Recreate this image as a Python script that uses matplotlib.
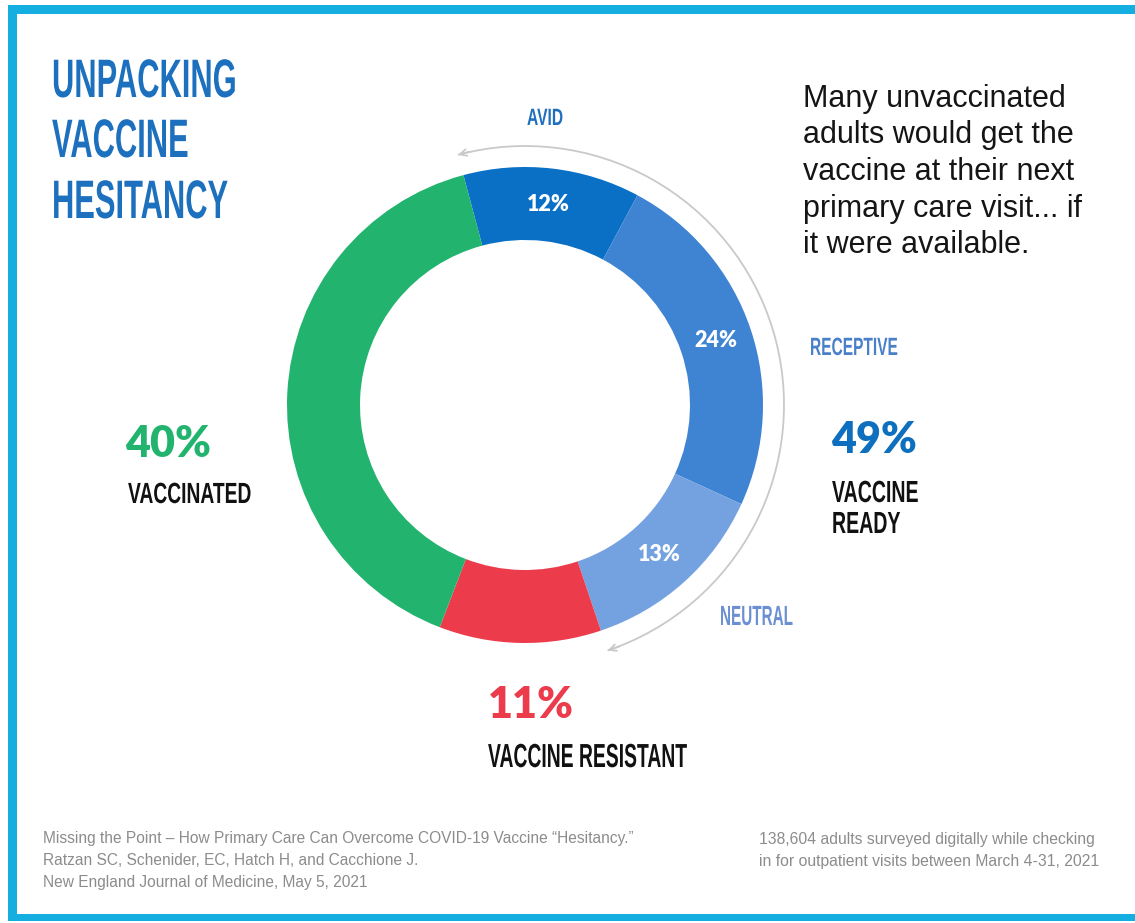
import matplotlib
matplotlib.use("Agg")
import matplotlib.pyplot as plt
from matplotlib import font_manager
from matplotlib.patches import Rectangle, Arc
from matplotlib.patheffects import AbstractPathEffect
from matplotlib.transforms import Affine2D
import numpy as np

# ---------------- data ----------------
segments = ["AVID", "RECEPTIVE", "NEUTRAL", "VACCINE RESISTANT", "VACCINATED"]
values = [12, 24, 13, 11, 40]
inner_labels = ["12%", "24%", "13%", "", ""]
colors = ["#0a70c6", "#3e84d2", "#74a2e0", "#ec3c4c", "#22b46e"]
ready_pct = "49%"
resistant_pct = "11%"
vaccinated_pct = "40%"
title_lines = ["UNPACKING", "VACCINE", "HESITANCY"]
note_lines = ["Many unvaccinated", "adults would get the", "vaccine at their next",
              "primary care visit... if", "it were available."]
source_lines = ["Missing the Point \u2013 How Primary Care Can Overcome COVID-19 Vaccine \u201cHesitancy.\u201d",
                "Ratzan SC, Schenider, EC, Hatch H, and Cacchione J.",
                "New England Journal of Medicine, May 5, 2021"]
survey_lines = ["138,604 adults surveyed digitally while checking",
                "in for outpatient visits between March 4-31, 2021"]

W, H = 1135, 923
names = {f.name for f in font_manager.fontManager.ttflist}
COND = "Liberation Sans" if "Liberation Sans" in names else "DejaVu Sans"
HEAVY = "Lato" if "Lato" in names else COND
BODY = "Liberation Sans" if "Liberation Sans" in names else "DejaVu Sans"


class Condense(AbstractPathEffect):
    """Horizontally condense glyphs around the line's left edge."""
    def __init__(self, sx):
        super().__init__()
        self.sx = sx

    def draw_path(self, renderer, gc, tpath, affine, rgbFace=None):
        renderer.draw_path(gc, tpath, Affine2D().scale(self.sx, 1.0) + affine, rgbFace)


fig = plt.figure(figsize=(W / 100, H / 100), dpi=100)
fig.patch.set_facecolor("white")
ax = fig.add_axes([0, 0, 1, 1])


def Y(y):
    return H - y


# ---------------- donut ----------------
cx, cy, R, ring = 525, 405, 238, 73
wedges, _, autotexts = ax.pie(
    values, colors=colors, startangle=105, counterclock=False,
    center=(cx, Y(cy)), radius=R, autopct="%d%%", pctdistance=(R - ring / 2) / R,
    wedgeprops=dict(width=ring, linewidth=0),
    textprops=dict(color="white", fontsize=15.5, family=HEAVY, fontweight="heavy"))
for t, lab in zip(autotexts, inner_labels):
    t.set_text(lab)

ax.set_xlim(0, W)
ax.set_ylim(0, H)
ax.set_aspect("equal")
ax.axis("off")

# arc spanning the vaccine-ready share, with arrowheads
ready_share = sum(values[:3]) / sum(values) * 360
a_start = 105
a_end = 105 - ready_share
ra = 259
arc_col = "#c9c9c9"
ax.add_patch(Arc((cx, Y(cy)), 2 * ra, 2 * ra, theta1=a_end, theta2=a_start,
                 color=arc_col, lw=1.3))
for ang, sgn in [(a_start, 1), (a_end, -1)]:
    th = np.deg2rad(ang)
    tip = np.array([cx + ra * np.cos(th), Y(cy) + ra * np.sin(th)])
    tang = sgn * np.array([-np.sin(th), np.cos(th)])
    ax.annotate("", xy=tip, xytext=tip - 12 * tang,
                arrowprops=dict(arrowstyle="->", color=arc_col, lw=1.3,
                                mutation_scale=12, shrinkA=0, shrinkB=0))

# ---------------- text ----------------
def cond(x, y, s, size, sx, color):
    ax.text(x, Y(y), s, fontsize=size, family=COND, fontweight="bold", color=color,
            ha="left", va="baseline", path_effects=[Condense(sx)])


title_col = "#1c70bd"
for s, yb in zip(title_lines, [97, 157, 218]):
    cond(52, yb, s, 39, 0.57, title_col)

cond(527, 125, segments[0], 17, 0.66, "#1f6fbe")
cond(810, 355, segments[1], 18, 0.62, "#4a80c8")
cond(720, 625, segments[2], 20, 0.55, "#6a8fd2")
cond(488, 767, segments[3], 24, 0.58, "#111111")
cond(128, 503, segments[4], 21, 0.66, "#111111")
cond(832, 502, "VACCINE", 22, 0.64, "#111111")
cond(832, 533, "READY", 22, 0.64, "#111111")

def heavy(x, y, s, color):
    ax.text(x, Y(y), s, fontsize=31, family=HEAVY, fontweight="heavy", color=color,
            ha="left", va="baseline")

heavy(125, 457, vaccinated_pct, "#22b46e")
heavy(831, 453, ready_pct, "#0e6fbe")
heavy(488, 718, resistant_pct, "#ec3c4c")

for i, s in enumerate(note_lines):
    ax.text(803, Y(107 + i * 36.5), s, fontsize=22, family=BODY, color="#151515",
            ha="left", va="baseline")

for i, s in enumerate(source_lines):
    ax.text(43, Y(843 + i * 22), s, fontsize=11.2, family=BODY, color="#8c8c8c",
            ha="left", va="baseline")
for i, s in enumerate(survey_lines):
    ax.text(759, Y(844 + i * 22), s, fontsize=11.3, family=BODY, color="#8c8c8c",
            ha="left", va="baseline")

# ---------------- frame ----------------
border = "#14afe0"
ax.add_patch(Rectangle((8, Y(14)), W - 8, 9, color=border, lw=0))
ax.add_patch(Rectangle((8, Y(921)), 9, 921 - 5, color=border, lw=0))
ax.add_patch(Rectangle((8, Y(921)), W - 8, 7, color=border, lw=0))

fig.savefig("out.png", dpi=100, facecolor="white")
